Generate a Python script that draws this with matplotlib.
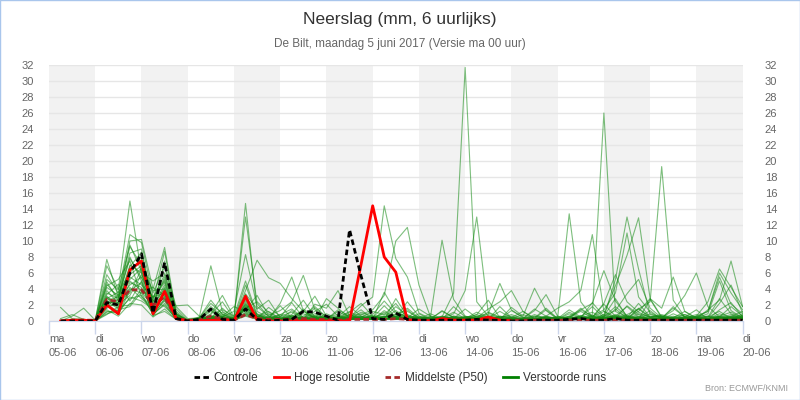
import numpy as np
import matplotlib
matplotlib.use('Agg')
import matplotlib.pyplot as plt
from matplotlib.patches import Rectangle
from matplotlib.lines import Line2D

plt.rcParams['font.family'] = ['Liberation Sans', 'DejaVu Sans']

# 6-hourly lead times (hours after ma 05-06 00 uur)
LEAD_HOURS = np.arange(6, 361, 6)

DAY_NAMES = ['ma', 'di', 'wo', 'do', 'vr', 'za', 'zo', 'ma', 'di', 'wo', 'do', 'vr', 'za', 'zo', 'ma', 'di']
DAY_DATES = ['05-06', '06-06', '07-06', '08-06', '09-06', '10-06', '11-06', '12-06',
             '13-06', '14-06', '15-06', '16-06', '17-06', '18-06', '19-06', '20-06']

# Controle run (mm per 6 uur)
controle = [0, 0, 0, 0,  2.3, 2.0, 6.0, 8.4,  1.0, 7.3, .3, 0,  .2, 1.5, .2, .1,
            1.5, .2, 0, .1,  .2, 1.2, 1.1, .6,  .1, 11.4, 5.6, .3,  .2, 1.0, .2, .1,
            .1, .1, .1, .1,  .2, .1, .1, 0,  0, .1, .1, .1,  .2, .3, .1, .1,
            .3, .1, .1, .1,  .1, .1, .1, .1,  .1, .1, .1, .1]

# Hoge resolutie (10 dagen)
hoge_resolutie = [0, .1, .1, 0,  2.0, .9, 6.4, 7.5,  .9, 3.7, .3, 0,  0, .1, .1, 0,
                  3.1, .1, 0, 0,  0, 0, 0, 0,  0, 0, 7.1, 14.4,  8.0, 6.1, .1, 0,
                  0, .3, .1, .1,  .1, .5, .1, 0]

# Middelste (P50)
p50 = [0, .1, .1, .1,  2.7, 2.4, 3.9, 3.9,  2.0, 3.0, .3, .1,  .1, .6, .3, .1,
       .8, .3, .2, .2,  .2, .3, .2, .2,  .1, .2, .2, .2,  .2, .3, .2, .1,
       .1, .1, .1, .1,  .1, .1, .1, .1,  .1, .1, .1, .1,  .1, .1, .1, .1,
       .1, .1, .1, .1,  .1, .1, .1, .1,  .1, .1, .1, .1]

# Verstoorde runs (ensemble members)
verstoorde_runs = [
    [0, .1, .2, .1, 7.7, 3, 8, 5, 2, 4, .5, 0, .2, 1.2, .5, .1, 2.1, .6, .3, .8, 1.5, .4, .2, .9, .3, 1.1, 2.2, .6, .4, 1.8, .7, .2,
     .1, .5, 3.5, 31.7, 2.4, .6, .3, .1, .2, .8, .3, .1, .5, 1.2, .4, 2.1, .6, .3, 1.5, .4, .2, .9, .3, .1, .3, .6, 1.1, .4],
    [0, 0, .1, .1, 6.9, 4, 15, 6, 1.5, 3, .3, 0, .1, .8, 2.4, .3, 14.7, 1.2, .4, .2, .6, 1.3, .3, .2, .1, .4, 1.9, 3, 14.4, 7.8, 5.5, 1,
     .3, .2, .6, .4, .8, 2.6, .4, .2, .1, .4, 1.6, .3, .2, .7, .3, .5, 1.8, .6, .2, 2.7, .4, .2, .1, .3, .2, 1.4, 2.3, .5],
    [0, .2, 0, .1, 5.8, 3.5, 10.8, 9.8, 3, 5, .6, .1, .4, 2.2, .9, .2, 1.6, 2.4, 1.1, .3, .8, 2.6, .5, .2, 1.4, .6, .3, .8, 2.5, .9, .4, 1.5,
     .6, .3, .9, 3.8, 13, 1, .4, .2, .3, .1, .5, .2, 1.1, .4, 2.3, .6, .3, 1.9, .8, .2, .1, .4, 1.2, .3, .5, 2.8, .9, .3],
    [0, 0, .1, 0, 4.9, 2.5, 10, 10.2, 4, 9.2, 1, 0, .1, .5, 1.4, .6, 5, .8, .2, .5, 2.3, .4, .9, .3, .2, .3, .5, 1.2, .8, 2.2, .3, .1,
     .2, 1.3, .4, .2, .5, .2, 1.8, .4, .1, .3, .2, .4, 13.4, 2.4, .5, .3, .4, .2, .9, .5, .7, .3, .2, .1, .2, .3, .6, 1.2],
    [1.7, .3, .2, .1, 4.2, 3.2, 9.3, 7, 2.5, 8.7, .8, .2, .3, 1.6, .4, .1, 3.4, 1.5, 2.6, .4, .2, .6, 1.8, .5, .8, .2, .4, .3, .6, .3, 1.2, .4,
     .1, .4, .2, .5, .3, .6, .2, 1.3, .5, .2, .4, .3, .2, .4, .8, 26, 1.2, .5, .3, .2, .4, 1.6, .5, .2, .1, .4, .8, .3],
    [0, .1, .1, 0, 3.5, 2.8, 8.5, 9, 1.2, 7.5, .5, 0, .2, .4, .8, .3, 2.8, .3, 1.7, .6, 1.1, .3, .2, 2.8, 1.6, .4, .2, .3, .5, .8, 1.4, .2,
     .5, 10.1, 2.7, .6, .3, .2, .6, .4, 1.2, .3, .2, .1, .4, 1.6, .5, .3, .2, .7, .4, 1.3, .2, .5, .8, .3, .6, .2, .4, .7],
    [0, 0, .1, .1, 3, 2, 7, 6, 5, 6, 1.5, .1, .5, 6.9, 1.2, .3, 1.3, .6, .4, 1.9, .4, 1.2, 3.1, .6, .3, .5, 1.4, .2, 3.6, 1.1, .5, .2,
     .4, .2, .3, 1.5, .4, .8, .3, .2, .3, 1.5, .6, .2, .9, .3, .2, .6, 2.8, .5, .3, .2, .1, .3, .5, 1.4, .2, .5, 1.8, .6],
    [0, .1, 0, .2, 2.8, 3.6, 6, 8, 2, 4.5, .4, 0, .1, .9, 3.2, .5, 13, 2.2, .5, .3, .6, .4, 1.6, .5, .2, .8, .3, .2, 1.1, .4, 2.4, .6,
     .2, .6, .3, .1, .3, 1.1, .5, .6, .2, .3, 1.4, .3, .2, .5, .3, .4, .6, 1.8, .5, .3, .2, .3, .4, .8, .5, 1.2, .3, .2],
    [0, .6, 1.6, .1, 2.5, 1.5, 5.5, 4.5, 3, 3.5, .6, 0, .4, .3, .6, 1.8, 1.2, .5, .9, .2, 1.3, .3, .7, .4, .5, 1.8, .6, .3, .3, .6, .2, .9,
     .2, .4, 1.1, .3, .8, .3, .2, 1.7, .6, 4.1, 1.3, .2, .3, .2, .7, .4, .3, .4, 2.2, .5, .6, .2, .3, .2, .3, .9, .4, .2],
    [0, 0, .2, 0, 2.2, 2.6, 4.5, 5.5, 1, 2.5, .3, .1, .2, .6, .3, .1, 2.4, .4, .2, .3, .2, 1.5, .5, .2, .4, .3, .8, 1.4, 3.2, 10, 11.7, 4.5,
     .5, .3, .2, .6, .2, .4, .3, .2, .3, .2, .6, .3, 1.4, .5, .3, .2, .4, .3, .5, .2, .3, .2, .6, .4, .2, .4, .3, .5],
    [0, .1, 0, 0, 2, 1.2, 4, 3.5, .8, 2.2, .2, 0, .1, .4, 1.1, .2, 3.8, 7.6, 5.4, 4.7, 2.8, 1.2, .4, .3, .2, .3, .6, .2, 1.3, .4, .3, .2,
     .2, .2, .5, .3, 1.1, .4, .2, .3, .2, .6, .3, .2, .3, 1.4, .6, .2, .3, .4, .3, .9, .4, .2, .3, .6, 1.2, 5.5, 2.1, .9],
    [.3, .8, .2, .1, 1.6, 2.4, 3.5, 6.5, 2.2, 5.5, 1.2, 0, .2, .6, .4, .1, 1.8, .3, .6, .2, .5, .3, 1.2, 2.1, .6, .2, .4, .5, .9, .3, .5, .6,
     .3, .5, .4, .2, .6, .9, 4.7, 1.4, .4, .3, .2, .6, .3, .5, 1.8, .4, .5, .3, .6, .3, .3, .4, .2, .5, .6, .4, .3, .2],
    [0, 0, .1, 0, 1.2, 1, 3, 2.5, 1.5, 3.8, .5, 0, .3, 1.4, .2, .1, 1.6, .9, .3, 2.2, 5.5, 1.3, .4, .6, .3, .8, .2, .4, .2, .6, 1.6, .4,
     .3, 1.2, .5, .2, .2, .3, .4, .8, .3, .2, .5, .2, .6, .3, .4, 1.2, .3, .5, .2, .4, .6, .3, .2, .4, .9, 5, 1.3, .4],
    [0, .1, .1, 0, 3.3, 4.6, 2.5, 5, .6, 2.8, .3, 0, .1, .3, .5, 1.2, 8.3, 1.8, .6, .4, .3, .4, .6, .3, .5, .3, 1.1, .6, .4, 1.3, .4, .3,
     .9, .3, .2, .4, .2, .3, .6, .3, .8, .3, .2, .4, .2, .6, .3, .2, 1.5, .4, .3, .6, .3, .2, .5, .3, 1.4, 2.6, 7.5, 1.8],
    [0, 0, 0, .1, 4.4, 5.2, 7.5, 3, 1.8, 4.2, .7, .1, .3, 1.8, .6, .2, 3.3, .4, .3, .2, .3, .9, .4, .2, 1.2, .4, .3, .5, .3, .5, .8, .3,
     .4, .2, .6, .4, .4, 1.5, 2.4, 3.8, 1.2, .3, .4, .2, .5, .3, .2, .8, .4, .2, 1.6, .5, .8, .4, .3, .2, .3, .6, .4, .3],
    [0, .1, 0, 0, .8, 1.8, 2, 4, 2.6, 1.8, .4, 0, .2, .5, .3, .4, 1.4, 3.2, .7, 1.3, 2.4, 5.7, 1.4, .3, .2, .5, .3, .6, .6, .3, .4, .2,
     .3, .4, .2, .5, .3, .2, .5, .3, .2, .6, .3, .4, .3, .2, .6, .3, .7, .3, .4, .2, .5, .3, .8, .3, .4, 2.2, 4.5, 1],
    [0, 0, .1, 0, 2.6, 3, 5, 3.8, 4.2, 3.2, .9, 0, .2, .4, 1.6, .3, 2.6, .5, .3, .8, .6, .3, .2, .4, .4, .6, .9, .3, .2, 2.8, .6, .3,
     .3, .6, .2, .3, .5, .3, 1.2, .4, .3, 1.3, 3.3, .6, .2, .4, .3, .5, .4, .6, .3, .2, .3, .6, .2, .4, .2, .3, .5, .8],
    [0, 0, 0, .1, 1.4, .6, 2.2, 2, .5, 1.5, .2, 0, .1, .3, .2, .1, 1, .3, .2, .4, .2, .4, .3, .2, .3, .2, .5, .3, .2, .6, .3, .2,
     .6, .3, .4, .2, .3, .2, .3, .4, .2, .4, .6, 1.6, 2.4, 3.8, 10.8, 1.2, .5, .3, .2, .4, .2, .4, .3, .2, .3, .5, .2, .6],
    [0, .1, .1, .1, 3.8, 2.2, 6.5, 7.5, 3.5, 6.8, 1.8, .3, .4, 2.6, .8, .2, 4.5, .6, 1.2, .3, .4, .2, 2.1, 1.6, 3.8, .6, .3, .2, .5, .8, .3, .4,
     .3, .2, 1.8, .5, .6, .4, .3, .2, .4, .2, .3, .5, .3, .6, 1.1, .3, .8, .4, .3, .2, .3, 1.8, .5, .3, .2, .3, .6, .4],
    [0, 0, 0, 0, 2.9, 1.6, 4.8, 4.2, 1.4, 2.6, .6, 0, .1, .2, .4, .1, .8, .4, .2, .3, .3, .2, .6, .2, .6, .3, .2, .4, 1.9, .5, .3, .2,
     .2, .4, .3, .2, .3, .6, .2, .5, .2, .3, .4, .3, .6, 1.4, 2.2, 6.3, 2.5, .6, .3, .2, .3, .2, .4, .3, .3, .4, .2, .3],
    [0, .1, 0, 0, 1.9, 2.1, 3.2, 5.8, 2.8, 4.8, .5, 0, .2, .3, .5, .2, 1.9, .4, .3, .2, .7, .3, .2, .5, .4, 1.2, .3, .2, .6, .3, .2, .4,
     .2, .3, .5, .2, .3, .5, .3, .2, .4, .2, .3, .2, .3, .4, .2, .5, 5.2, 13, 6.5, .8, .4, .3, .2, .6, .3, .2, .5, .3],
    [0, 0, .1, 0, 5.2, 3.9, 9.5, 6.2, 1.1, 3.4, .4, 0, .3, .5, .2, .1, 2.2, .5, .4, .3, .2, .5, .3, .2, .3, .2, .4, .6, .3, .4, .6, .2,
     .4, .3, .2, .3, .2, .3, .4, .2, .3, .2, .2, .3, .2, .3, .6, 1.4, 3.5, 11, 3, 1.1, .3, .4, .2, .3, .4, .6, .3, .2],
    [0, 0, 0, .1, .9, 1.3, 2.8, 3.2, .9, 2, .3, 0, .1, .2, .3, .1, .6, .2, .3, .2, .3, .2, .4, .3, .2, .3, .2, .3, .3, .2, .4, .3,
     .2, .3, .3, .2, .3, .2, .2, .3, .2, .3, .2, .2, .3, .4, .3, .8, 4.4, 8.2, 12.9, 2.8, .5, .3, .2, .4, .2, .3, .4, .2],
    [0, 0, 0, 0, 2.4, 2.7, 6.8, 8.6, 2.4, 5.2, .8, 0, .2, .4, .6, .2, 3, .8, .3, .2, .3, .2, .5, .4, .2, .4, .6, .2, .4, .3, .2, .5,
     .3, .2, .4, .3, .2, .4, .3, .2, .3, .2, .4, .3, .4, .3, .5, 2.2, 5.8, 2.4, 1.1, .4, .6, .3, .2, .4, .3, .2, .5, .4],
    [0, .1, 0, 0, 3.1, 1.9, 4.2, 2.8, 1.6, 3.6, .5, .1, .1, .2, .4, .2, 1.7, .4, .2, .6, .4, .3, .2, .3, .3, .2, .3, .2, .2, .5, .3, .2,
     .3, .2, .2, .4, .3, .2, .3, .2, .2, .3, .2, .4, .3, .5, .2, .6, 1.3, 3.4, 5.2, 1.6, .4, .2, .3, .2, .2, .4, .3, .6],
    [0, 0, .1, 0, 1.7, 3.3, 5.2, 6.6, 3.8, 4, .6, 0, .1, .3, .2, .1, 1.1, .3, .2, .3, .2, .3, .2, .2, .4, .3, .2, .3, .2, .3, .4, .2,
     .3, .2, .3, .2, .2, .3, .2, .3, .2, .2, .3, .2, .3, .2, .4, .3, .5, .8, 1.5, 2.4, 19.3, 2.6, .5, .3, .2, .3, .2, .4],
    [0, 0, 0, .1, 2.1, .8, 3.8, 4.8, .7, 1.2, .2, 0, .1, .2, .3, .1, .9, .2, .3, .2, .2, .4, .2, .3, .2, .3, .2, .2, .3, .2, .3, .2,
     .2, .3, .2, .2, .3, .2, .3, .2, .2, .3, .2, .3, .2, .3, .2, .4, .6, .3, 1.2, 2.8, 1.6, 5.5, 1.2, .4, .3, .2, .4, .3],
    [0, 0, 0, 0, 4.6, 2.9, 7.8, 5.4, 2.9, 5.8, .9, 0, .2, .3, .5, .2, 2, .4, .3, .2, .3, .2, .4, .3, .2, .3, .4, .2, .3, .2, .3, .4,
     .2, .3, .2, .3, .2, .3, .2, .2, .3, .2, .3, .2, .3, .2, .3, .2, .4, .3, .5, .3, .4, 1.3, 3.2, 6, 1.8, .5, .3, .2],
    [0, 0, 0, 0, 1.1, 1.4, 1.8, 3.6, 1.9, 2.9, .4, 0, .1, .2, .3, .1, .7, .3, .2, .2, .2, .3, .2, .2, .3, .2, .2, .3, .2, .3, .2, .2,
     .3, .2, .2, .3, .2, .2, .3, .2, .2, .3, .2, .2, .2, .3, .2, .2, .3, .2, .3, .2, .3, .2, .4, .6, 2.4, 6.5, 4.2, 1.8],
    [0, 0, 0, 0, 2.3, 2.3, 5.8, 6.9, 1.3, 3.1, 1.9, 2, .6, .3, .2, .1, 1.5, .3, .2, .2, .2, .3, .2, .3, .2, .2, .3, .2, .3, .2, .2, .3,
     .2, .3, .2, .2, .3, .2, .2, .3, .2, .2, .3, .2, .3, .2, .2, .3, .2, .3, .2, .2, .2, .3, .4, .5, 1.2, 6, 3.5, 1.4],
]

GREEN = '#138a13'
BROWN = '#a52a2a'
GRID_COLOR = '#e6e6e6'
AXIS_COLOR = '#ccd6eb'
TEXT_COLOR = '#666666'

fig = plt.figure(figsize=(8, 4), dpi=100)
ax = fig.add_axes([0.06125, 0.1975, 0.867, 0.64])

n_days = len(DAY_DATES) - 1
# alternating shaded days, starting with ma 05-06
for d in range(0, n_days, 2):
    ax.axvspan(d * 24, (d + 1) * 24, color='#f2f2f2', lw=0, zorder=0)

for run in verstoorde_runs:
    ax.plot(LEAD_HOURS, run, color=GREEN, lw=0.8, alpha=0.55, zorder=2)
ax.plot(LEAD_HOURS, p50, color=BROWN, lw=2, ls=(0, (2, 1.2)), zorder=3)
ax.plot(LEAD_HOURS[:len(hoge_resolutie)], hoge_resolutie, color='#ff0000', lw=2, zorder=4)
ax.plot(LEAD_HOURS, controle, color='black', lw=2, ls=(0, (2, 1.2)), zorder=5)

ax.set_xlim(0, n_days * 24)
ax.set_ylim(0, 32)
yticks = np.arange(0, 33, 2)
ax.set_yticks(yticks)
ax.yaxis.grid(True, color=GRID_COLOR, lw=1, zorder=1)
ax.set_axisbelow(True)
ax.tick_params(axis='y', length=0, pad=11, labelsize=8, labelcolor=TEXT_COLOR)

ax2 = ax.twinx()
ax2.set_ylim(0, 32)
ax2.set_yticks(yticks)
ax2.tick_params(axis='y', length=0, pad=16, labelsize=8, labelcolor=TEXT_COLOR)

ax.set_xticks(np.arange(0, n_days + 1) * 24)
ax.set_xticklabels([f'{n}\n{d}' for n, d in zip(DAY_NAMES, DAY_DATES)],
                   ha='left', fontsize=8, color=TEXT_COLOR, linespacing=1.5)
ax.tick_params(axis='x', length=9, width=1, color=AXIS_COLOR, pad=0)

for a in (ax, ax2):
    for side in ('top', 'left', 'right'):
        a.spines[side].set_visible(False)
    a.spines['bottom'].set_color(AXIS_COLOR)

fig.text(0.5, 0.952, 'Neerslag (mm, 6 uurlijks)', ha='center', va='center',
         fontsize=12.5, color='#333333')
fig.text(0.5, 0.89, 'De Bilt, maandag 5 juni 2017 (Versie ma 00 uur)', ha='center',
         va='center', fontsize=8.5, color=TEXT_COLOR)

handles = [
    Line2D([], [], color='black', lw=2, ls=(0, (2, 1.2))),
    Line2D([], [], color='#ff0000', lw=2),
    Line2D([], [], color=BROWN, lw=2, ls=(0, (2, 1.2))),
    Line2D([], [], color='#008000', lw=2),
]
labels = ['Controle', 'Hoge resolutie', 'Middelste (P50)', 'Verstoorde runs']
fig.legend(handles, labels, loc='center', bbox_to_anchor=(0.5, 0.055), ncol=4,
           frameon=False, fontsize=8.5, handlelength=1.3, handletextpad=0.4,
           columnspacing=1.3, labelcolor='#333333')

fig.text(0.985, 0.018, 'Bron: ECMWF/KNMI', ha='right', va='bottom', fontsize=6.5,
         color='#999999')

fig.patches.append(Rectangle((0.0006, 0.0012), 0.9988, 0.9976, transform=fig.transFigure,
                             fill=False, edgecolor='#a9c6ec', lw=1))

fig.savefig('out.png', dpi=100)
